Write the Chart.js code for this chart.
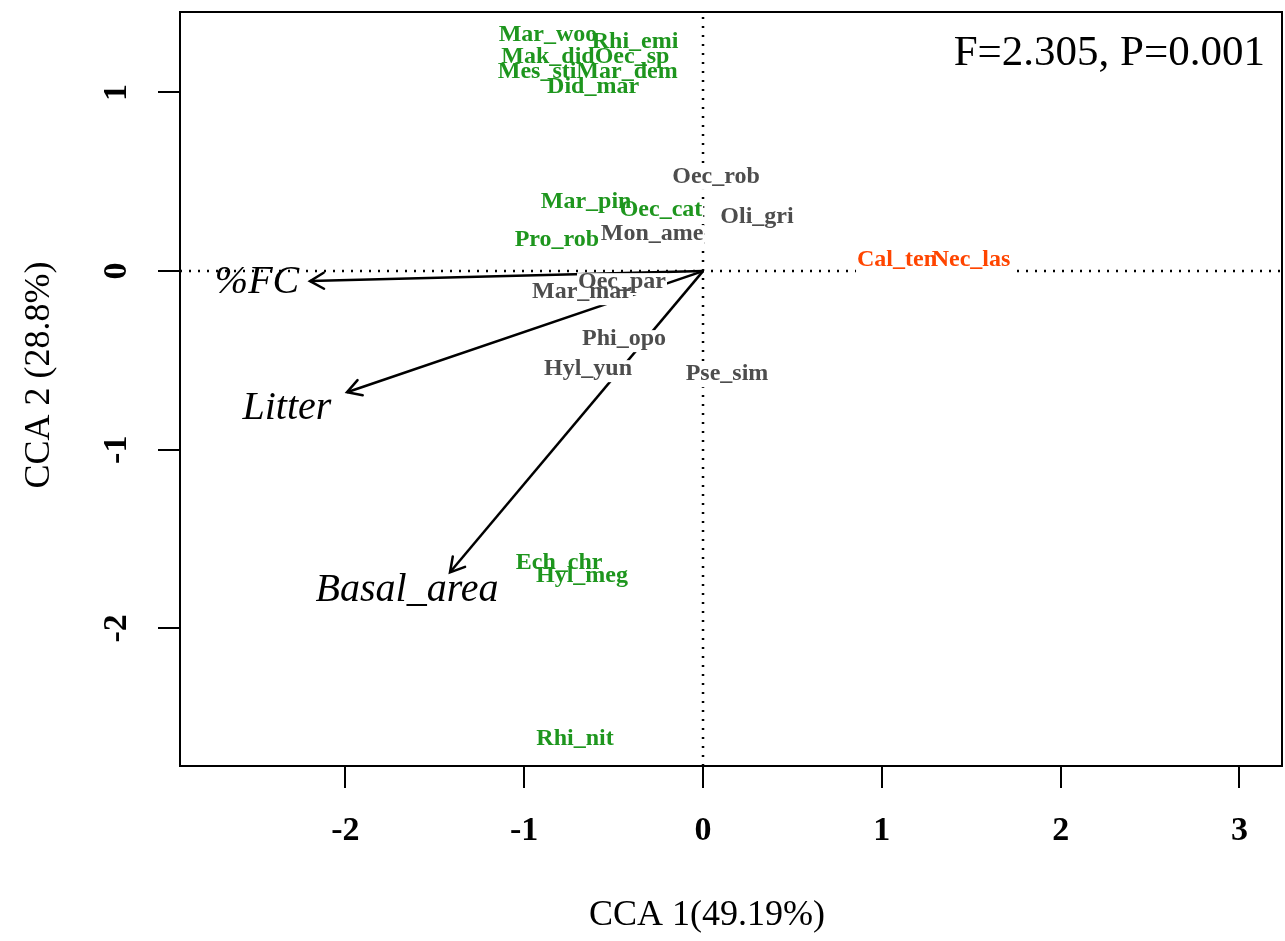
<!DOCTYPE html>
<html><head><meta charset="utf-8">
<script src="https://cdn.jsdelivr.net/npm/chart.js@4.4.1/dist/chart.umd.min.js"></script>
<style>html,body{margin:0;padding:0;background:#fff}canvas{display:block}</style>
</head><body>
<canvas id="c" width="1285" height="941"></canvas>
<script>
// ---- data ----
const speciesNames = ['Mar_woo','Rhi_emi','Mak_did','Oec_sp','Mes_sti','Mar_dem','Did_mar',
  'Oec_rob','Mar_pin','Oec_cat','Oli_gri','Mon_ame','Pro_rob','Cal_ten','Nec_las',
  'Oec_par','Mar_mar','Phi_opo','Hyl_yun','Pse_sim','Ech_chr','Hyl_meg','Rhi_nit'];
const speciesX = [-0.867,-0.380,-0.867,-0.397,-0.928,-0.425,-0.615,
  0.073,-0.654,-0.235,0.302,-0.285,-0.817,1.085,1.499,
  -0.453,-0.677,-0.442,-0.643,0.134,-0.805,-0.677,-0.716];
const speciesY = [1.322,1.283,1.199,1.199,1.115,1.115,1.031,
  0.527,0.387,0.342,0.303,0.207,0.174,0.062,0.062,
  -0.062,-0.118,-0.381,-0.549,-0.577,-1.630,-1.703,-2.616];
const speciesGroup = ['g','g','g','g','g','g','g',
  'k','g','g','k','k','g','r','r',
  'k','k','k','k','k','g','g','g'];
const groupColors = {g:'#1E961E', k:'#4D4D4D', r:'#FF4500'};
const envNames = ['%FC','Litter','Basal_area'];
const envX = [-2.198,-1.991,-1.415];
const envY = [-0.056,-0.678,-1.686];
const envLabelX = [-2.494,-2.327,-1.655];
const envLabelY = [-0.062,-0.768,-1.787];
const xTicks = [-2,-1,0,1,2,3];
const yTicks = [-2,-1,0,1];
const xRange = [-2.925, 3.238];
const yRange = [-2.770, 1.450];
const statText = 'F=2.305, P=0.001';
const xTitle = 'CCA 1(49.19%)';
const yTitle = 'CCA 2 (28.8%)';

const SERIF = '"Liberation Serif","Times New Roman",serif';

// ---- datasets ----
const datasets = [];
datasets.push({label:'h0', data:[{x:xRange[0],y:0},{x:xRange[1],y:0}], showLine:true,
  borderColor:'#000', borderWidth:2.5, borderDash:[2,7], pointRadius:0});
datasets.push({label:'v0', data:[{x:0,y:yRange[0]},{x:0,y:yRange[1]}], showLine:true,
  borderColor:'#000', borderWidth:2.5, borderDash:[2,7], pointRadius:0});
envNames.forEach((n,i)=>{
  datasets.push({label:'arrow_'+n, data:[{x:0,y:0},{x:envX[i],y:envY[i]}], showLine:true,
    borderColor:'#000', borderWidth:2.5, pointRadius:0, isArrow:true});
});
const SPECIES_DS = datasets.length;
datasets.push({label:'species', data:speciesNames.map((n,i)=>({x:speciesX[i],y:speciesY[i]})),
  showLine:false, pointRadius:0});
const ENVLAB_DS = datasets.length;
datasets.push({label:'envlabels', data:envNames.map((n,i)=>({x:envLabelX[i],y:envLabelY[i]})),
  showLine:false, pointRadius:0});

const overlay = {
  id:'overlay',
  afterDatasetsDraw(chart){
    const ctx = chart.ctx;
    // arrowheads
    chart.data.datasets.forEach((ds,di)=>{
      if(!ds.isArrow) return;
      const pts = chart.getDatasetMeta(di).data;
      const p0 = pts[0], p1 = pts[1];
      const ang = Math.atan2(p1.y-p0.y, p1.x-p0.x);
      const L = 16, a = Math.PI/6;
      ctx.save();
      ctx.strokeStyle='#000'; ctx.lineWidth=2.5; ctx.lineCap='round';
      ctx.beginPath();
      ctx.moveTo(p1.x - L*Math.cos(ang-a), p1.y - L*Math.sin(ang-a));
      ctx.lineTo(p1.x, p1.y);
      ctx.lineTo(p1.x - L*Math.cos(ang+a), p1.y - L*Math.sin(ang+a));
      ctx.stroke();
      ctx.restore();
    });
    // species labels: boxes first then text
    const sp = chart.getDatasetMeta(SPECIES_DS).data;
    ctx.save();
    ctx.font = 'bold 24px ' + SERIF;
    ctx.textAlign='center'; ctx.textBaseline='middle';
    ctx.fillStyle='#fff';
    sp.forEach((p,i)=>{
      const w = ctx.measureText(speciesNames[i]).width;
      ctx.fillRect(p.x - w/2 - 1, p.y - 9, w + 2, 22);
    });
    sp.forEach((p,i)=>{
      ctx.fillStyle = groupColors[speciesGroup[i]];
      ctx.fillText(speciesNames[i], p.x, p.y);
    });
    // env labels
    const el = chart.getDatasetMeta(ENVLAB_DS).data;
    ctx.font = 'italic 40px ' + SERIF;
    ctx.fillStyle='#000';
    el.forEach((p,i)=>{ ctx.fillText(envNames[i], p.x, p.y); });
    // stat text
    ctx.font = '43px ' + SERIF;
    ctx.textAlign='right'; ctx.textBaseline='alphabetic';
    ctx.fillText(statText, 1265, 65);
    // y tick labels (rotated, as in R)
    const ys = chart.scales.y;
    ctx.font = 'bold 34px ' + SERIF;
    ctx.textAlign='center'; ctx.textBaseline='middle';
    yTicks.forEach(v=>{
      const py = ys.getPixelForValue(v);
      ctx.save();
      ctx.translate(117, py);
      ctx.rotate(-Math.PI/2);
      ctx.fillText(String(v), 0, 0);
      ctx.restore();
    });
    // axis titles
    ctx.font = '36px ' + SERIF;
    ctx.fillText(xTitle, 707, 916);
    ctx.translate(40, 375);
    ctx.rotate(-Math.PI/2);
    ctx.fillText(yTitle, 0, 0);
    ctx.restore();
    // frame
    const ca = chart.chartArea;
    ctx.save();
    ctx.strokeStyle='#000'; ctx.lineWidth=2;
    ctx.strokeRect(ca.left, ca.top, ca.right-ca.left, ca.bottom-ca.top);
    ctx.restore();
  }
};

new Chart(document.getElementById('c'), {
  type:'scatter',
  data:{datasets},
  options:{
    responsive:false, animation:false, devicePixelRatio:1,
    layout:{padding:{top:12,right:3,left:0,bottom:0}},
    plugins:{legend:{display:false}, tooltip:{enabled:false}},
    scales:{
      x:{type:'linear', min:xRange[0], max:xRange[1], position:'bottom',
        afterBuildTicks:s=>{s.ticks = xTicks.map(v=>({value:v}));},
        afterFit:s=>{s.height = 175;},
        grid:{drawOnChartArea:false, drawTicks:true, tickLength:22, color:'#000', lineWidth:2},
        border:{display:true, color:'#000', width:2},
        ticks:{font:{family:SERIF, weight:'bold', size:34}, color:'#000', padding:23,
          maxRotation:0, minRotation:0, autoSkip:false}},
      y:{type:'linear', min:yRange[0], max:yRange[1], position:'left',
        afterBuildTicks:s=>{s.ticks = yTicks.map(v=>({value:v}));},
        afterFit:s=>{s.width = 180; s.paddingTop = 0; s.paddingBottom = 0;},
        grid:{drawOnChartArea:false, drawTicks:true, tickLength:22, color:'#000', lineWidth:2},
        border:{display:true, color:'#000', width:2},
        ticks:{display:false}}
    }
  },
  plugins:[overlay]
});
</script>
</body></html>
